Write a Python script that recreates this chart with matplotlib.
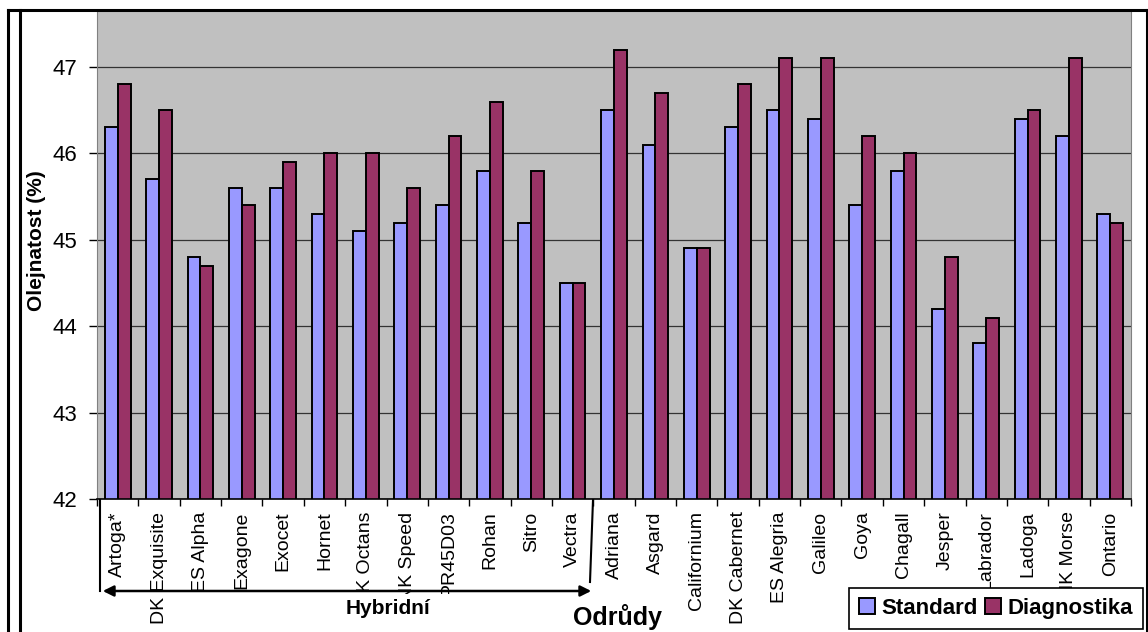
import numpy as np
import matplotlib
matplotlib.use("Agg")
import matplotlib.pyplot as plt
from matplotlib.patches import Rectangle, FancyArrowPatch
from matplotlib.lines import Line2D

plt.rcParams['font.family'] = ['Liberation Sans', 'DejaVu Sans']

categories = ['Artoga*', 'DK Exquisite', 'ES Alpha', 'Exagone', 'Exocet', 'Hornet',
              'NK Octans', 'NK Speed', 'PR45D03', 'Rohan', 'Sitro', 'Vectra',
              'Adriana', 'Asgard', 'Californium', 'DK Cabernet', 'ES Alegria',
              'Galileo', 'Goya', 'Chagall', 'Jesper', 'Labrador', 'Ladoga',
              'NK Morse', 'Ontario']
standard = [46.3, 45.7, 44.8, 45.6, 45.6, 45.3, 45.1, 45.2, 45.4, 45.8, 45.2, 44.5,
            46.5, 46.1, 44.9, 46.3, 46.5, 46.4, 45.4, 45.8, 44.2, 43.8, 46.4,
            46.2, 45.3]
diagnostika = [46.8, 46.5, 44.7, 45.4, 45.9, 46.0, 46.0, 45.6, 46.2, 46.6, 45.8, 44.5,
               47.2, 46.7, 44.9, 46.8, 47.1, 47.1, 46.2, 46.0, 44.8, 44.1, 46.5,
               47.1, 45.2]
series_names = ['Standard', 'Diagnostika']
yticks = [42, 43, 44, 45, 46, 47]

W, H = 1148, 632


def fx(x):
    return x / W


def fy(y):
    return 1 - y / H


fig = plt.figure(figsize=(W / 100, H / 100), dpi=100)
ax = fig.add_axes([fx(97), fy(499), fx(1131) - fx(97), fy(10) - fy(499)])
ax.set_facecolor('#C0C0C0')

x = np.arange(len(categories))
bw = 0.31
b1 = ax.bar(x - bw / 2, standard, bw, color='#9999FF', edgecolor='black',
            linewidth=1.4, label=series_names[0])
b2 = ax.bar(x + bw / 2, diagnostika, bw, color='#993366', edgecolor='black',
            linewidth=1.4, label=series_names[1])

ax.set_ylim(42, 47.66)
ax.set_xlim(-0.5, len(categories) - 0.5)
ax.set_yticks(yticks)
ax.set_yticklabels([str(v) for v in yticks], fontsize=16)
ax.yaxis.grid(True, color='#333333', linewidth=0.9)
ax.set_axisbelow(True)
ax.tick_params(axis='y', length=6, width=1, pad=8, colors='black')

ax.set_xticks(x)
ax.set_xticklabels(categories, rotation=90, fontsize=14, va='top')
ax.tick_params(axis='x', length=0, pad=9)
ax.set_xticks(np.arange(-0.5, len(categories)), minor=True)
ax.tick_params(axis='x', which='minor', length=5, width=1, color='black')

for s in ['left', 'right', 'top']:
    ax.spines[s].set_color('#808080')
ax.spines['bottom'].set_color('black')
ax.spines['bottom'].set_linewidth(1.2)

fig.text(fx(37), fy(241), 'Olejnatost (%)', rotation=90, fontsize=15,
         fontweight='bold', ha='center', va='center')

# white text box under the arrow (hides ends of labels)
fig.add_artist(Rectangle((fx(300), 0), fx(570) - fx(300), fy(594), transform=fig.transFigure,
                         facecolor='white', edgecolor='none', zorder=3))
fig.text(fx(388), fy(609), 'Hybridní', fontsize=15, fontweight='bold',
         ha='center', va='center', zorder=4)
fig.text(fx(617), fy(617), 'Odrůdy', fontsize=18, fontweight='bold',
         ha='center', va='center', zorder=4)

# bracket for hybrid group
fig.add_artist(Line2D([fx(100), fx(100)], [fy(500), fy(591)], transform=fig.transFigure,
                      color='black', linewidth=1.5, zorder=5))
fig.add_artist(Line2D([fx(593), fx(590)], [fy(500), fy(582)], transform=fig.transFigure,
                      color='black', linewidth=1.5, zorder=5))
fig.add_artist(FancyArrowPatch((fx(100), fy(591)), (fx(594), fy(591)),
                               transform=fig.transFigure, arrowstyle='<|-|>',
                               mutation_scale=16, linewidth=1.8, color='black', zorder=5))

leg = fig.legend(handles=[b1, b2], labels=series_names, ncol=2, loc='upper left',
                 bbox_to_anchor=(fx(849), fy(588)), frameon=True, fancybox=False,
                 edgecolor='black', framealpha=1, borderaxespad=0,
                 prop={'size': 16, 'weight': 'bold'}, handlelength=0.7,
                 handleheight=0.7, handletextpad=0.3, columnspacing=0.35,
                 borderpad=0.45)
leg.get_frame().set_linewidth(1.2)
leg.set_zorder(6)

# outer frame
for xs, ys in [([8, 1147], [10, 10]), ([8, 8], [10, 632]), ([20, 20], [10, 632]),
               ([1147, 1147], [10, 632])]:
    fig.add_artist(Line2D([fx(v) for v in xs], [fy(v) for v in ys],
                          transform=fig.transFigure, color='black', linewidth=2.2, zorder=7))

fig.savefig('out.png', dpi=100)
